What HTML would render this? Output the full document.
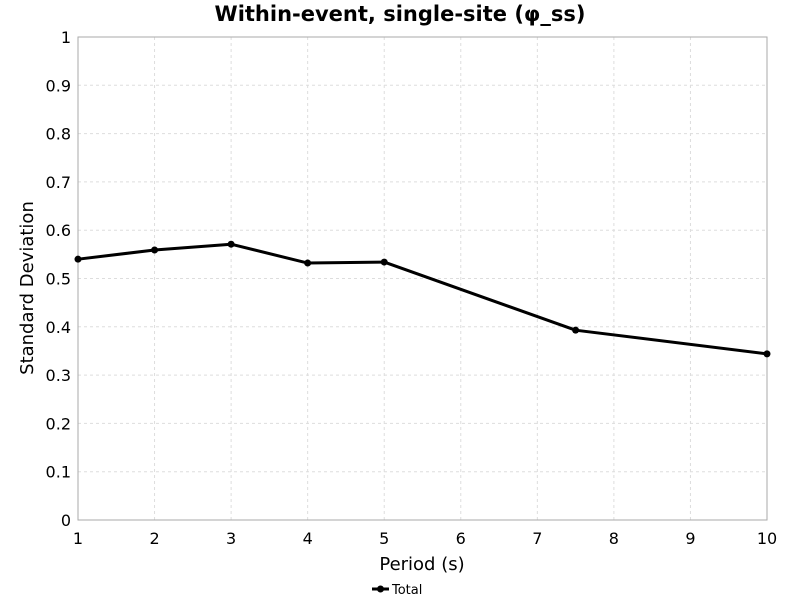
<!DOCTYPE html>
<html><head><meta charset="utf-8"><style>
html,body{margin:0;padding:0;background:#fff;}
svg text{font-family:"DejaVu Sans","Liberation Sans",sans-serif;}
</style></head><body>
<svg id="chart" width="800" height="600" xmlns="http://www.w3.org/2000/svg">
<rect width="800" height="600" fill="#fff"/>
<text x="400" y="21" text-anchor="middle" font-size="21" font-weight="bold">Within-event, single-site (φ_ss)</text>
<g id="grid"></g>
<rect x="78" y="37" width="689" height="483" fill="none" stroke="#aaa" stroke-width="1"/>
<g id="ticks"></g>
<g id="series"></g>
<text x="422" y="570" text-anchor="middle" font-size="18">Period (s)</text>
<text transform="translate(33,288) rotate(-90)" text-anchor="middle" font-size="18">Standard Deviation</text>
<g>
<line x1="372" y1="589" x2="389" y2="589" stroke="#000" stroke-width="3"/>
<circle cx="380.5" cy="589" r="3.5" fill="#000"/>
<text x="392" y="594" font-size="13">Total</text>
</g>
</svg>
<script>
const periods=[1,2,3,4,5,7.5,10];
const totalValues=[0.540,0.559,0.571,0.532,0.534,0.393,0.344];
const xTicks=[1,2,3,4,5,6,7,8,9,10];
const yTicks=[0,0.1,0.2,0.3,0.4,0.5,0.6,0.7,0.8,0.9,1];
const NS="http://www.w3.org/2000/svg";
const L=78,R=767,T=37,B=520;
function xs(v){return L+(v-1)/9*(R-L);}
function ys(v){return B-v*(B-T);}
function mk(t,a,p){const e=document.createElementNS(NS,t);for(const k in a)e.setAttribute(k,a[k]);p.appendChild(e);return e;}
const grid=document.getElementById('grid'),ticks=document.getElementById('ticks'),ser=document.getElementById('series');
xTicks.forEach(v=>{const x=xs(v);
 const g=mk('line',{x1:x,x2:x,y1:T,y2:B,stroke:'#ddd','stroke-dasharray':'3,3'},grid);
 
 
 const t=mk('text',{x:x,y:544,'text-anchor':'middle','font-size':16},ticks);t.textContent=v;
 
 
});
yTicks.forEach(v=>{const y=ys(v);
 const g=mk('line',{x1:L,x2:R,y1:y,y2:y,stroke:'#ddd','stroke-dasharray':'3,3'},grid);
 
 
 const t=mk('text',{x:71,y:y+6,'text-anchor':'end','font-size':16},ticks);t.textContent=(v===0||v===1)?String(v):v.toFixed(1);
 
 
});
const pts=periods.map((p,i)=>xs(p)+','+ys(totalValues[i])).join(' ');
const pl=mk('polyline',{points:pts,fill:'none',stroke:'#000','stroke-width':3,'stroke-linejoin':'round'},ser);


periods.forEach((p,i)=>{const c=mk('circle',{cx:xs(p),cy:ys(totalValues[i]),r:3.5,fill:'#000'},ser);
 
 
});
</script>
</body></html>
